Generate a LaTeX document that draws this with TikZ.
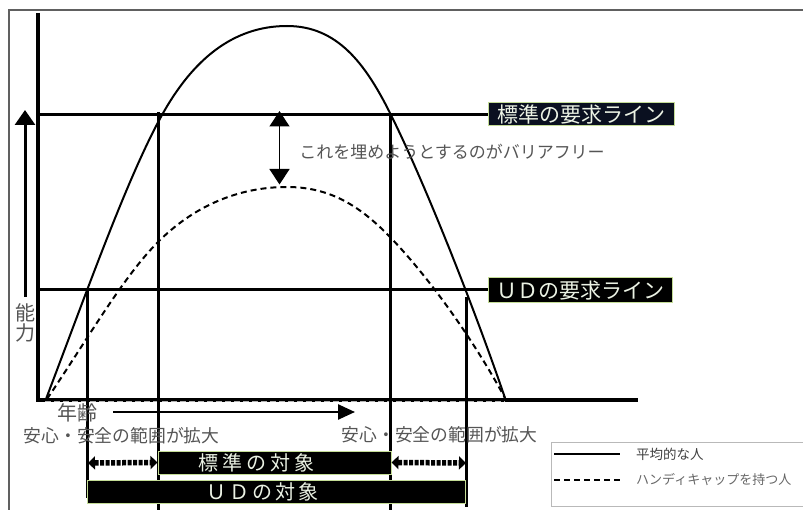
\documentclass[tikz,border=0pt]{standalone}
\usepackage{fontspec}
\newfontfamily\jp{Noto Sans CJK JP}
\usetikzlibrary{arrows.meta}
\definecolor{lgreen}{RGB}{196,220,150}
\definecolor{navy}{RGB}{10,16,32}
\definecolor{txtgray}{RGB}{85,85,85}
\definecolor{lbltxt}{RGB}{235,242,228}
\newcommand{\jgap}{\kern4pt}
\begin{document}
\begin{tikzpicture}[x=1pt,y=-1pt,
  axisline/.style={line width=3.2pt},
  guide/.style={line width=3pt},
  curve/.style={line width=2pt},
  dcurve/.style={line width=2pt,dash pattern=on 6pt off 4pt},
  labbox/.style={fill=black,draw=lgreen,line width=1pt,text=lbltxt,inner sep=0pt,
    minimum height=23pt,font=\jp\fontsize{21}{21}\selectfont},
  barbox/.style={fill=black,draw=lgreen,line width=1pt,inner sep=0pt,minimum height=23pt},
  bartext/.style={text=lbltxt,inner sep=0pt,font=\jp\fontsize{20}{20}\selectfont},
  note/.style={text=txtgray,inner sep=0pt,font=\jp\fontsize{17}{17}\selectfont},
  hatch/.style={line width=5.5pt,dash pattern=on 4pt off 1.5pt,
    {Triangle[width=13pt,length=7pt]}-{Triangle[width=13pt,length=7pt]}}
]
\useasboundingbox (0,0) rectangle (803,510);
\clip (0,0) rectangle (803,510);

% outer frame
\coordinate (f1) at (9,510);
\coordinate (f2) at (9,10);
\coordinate (f3) at (803,10);
\draw[gray!75!black,line width=1.2pt] (f1) -- (f2) -- (f3);

% axes
\coordinate (yaTop) at (38,13);
\coordinate (org) at (38,400);
\coordinate (xaEnd) at (638,400);
\draw[axisline] (yaTop) -- (org);
\draw[axisline] (36.4,400) -- (xaEnd);
\coordinate (gb1) at (45,401.8);
\coordinate (gb2) at (505,401.8);
\draw[gray!60,line width=1pt,dash pattern=on 6pt off 3pt] (gb1) -- (gb2);

% ability arrow
\coordinate (abBot) at (25,297);
\coordinate (abTop) at (25,110);
\draw[line width=3pt,-{Triangle[width=20pt,length=15pt]}] (abBot) -- (abTop);
\node[inner sep=0pt,align=center,text=txtgray,font=\jp\fontsize{20}{20}\selectfont] (noryoku) at (25,323) {能\\力};

% requirement lines and labels
\node[labbox,fill=navy,minimum width=186pt] (stdlab) at (581,114.5) {標準の要求ライン};
\node[labbox,minimum width=184pt,minimum height=25pt] (udlab) at (580,290.5) {ＵＤの要求ライン};
\coordinate (stdL) at (40,115);
\coordinate (udL) at (40,290);
\draw[guide] (stdL) -- (stdL -| stdlab.west);
\draw[guide] (udL) -- (udL -| udlab.west);

% vertical guide lines
\coordinate (v1t) at (87,288.5); \coordinate (v1b) at (87,498);
\coordinate (v2t) at (158,112);  \coordinate (v2b) at (158,512);
\coordinate (v3t) at (390.5,113.5); \coordinate (v3b) at (390.5,512);
\coordinate (v4t) at (466,297);  \coordinate (v4b) at (466,507);
\draw[guide] (v1t) -- (v1b);
\draw[guide] (v2t) -- (v2b);
\draw[guide] (v3t) -- (v3b);
\draw[guide] (v4t) -- (v4b);

% average person curve
\coordinate (sA) at (46,399);
\coordinate (sB) at (162,115);
\coordinate (sP) at (287,26);
\coordinate (sC) at (390,113);
\coordinate (sD) at (505,398);
\draw[curve] (sA) .. controls (86,294) and (127,178) .. (sB)
  .. controls (192,61) and (232,26) .. (sP)
  .. controls (337,26) and (365,63) .. (sC)
  .. controls (425,183) and (475,310) .. (sD);

% handicapped person curve
\coordinate (dA) at (47,399);
\coordinate (dB) at (158,242);
\coordinate (dP) at (287,187);
\coordinate (dC) at (390,237);
\coordinate (dD) at (505,398);
\draw[dcurve] (dA) .. controls (87,340) and (123,277) .. (dB)
  .. controls (193,207) and (237,187) .. (dP)
  .. controls (330,187) and (360,206) .. (dC)
  .. controls (425,273) and (470,333.6) .. (dD);

% gap arrow
\coordinate (gapTop) at (279.5,111);
\coordinate (gapBot) at (279.5,184.5);
\draw[line width=1.5pt,{Triangle[width=20pt,length=15.5pt]}-{Triangle[width=20pt,length=15.5pt]}] (gapTop) -- (gapBot);
\node[note] (bf) at (452,152) {これを埋めようとするのがバリアフリー};

% age arrow
\node[inner sep=0pt,text=txtgray,font=\jp\fontsize{20}{20}\selectfont] (age) at (77,413) {年齢};
\coordinate (ageTip) at (355,412);
\draw[line width=2.5pt,-{Triangle[width=15pt,length=17pt]}] (113,412) -- (ageTip);

% safety range texts
\node[note,font=\jp\fontsize{17.8}{17.8}\selectfont] (safeL) at (121.5,436) {安心・安全の範囲が拡大};
\node[note,font=\jp\fontsize{17.8}{17.8}\selectfont] (safeR) at (439.5,435) {安心・安全の範囲が拡大};

% target bars
\node[barbox,minimum width=233pt] (stdbar) at (274.5,462.5) {};
\node[bartext] (stdtxt) at (256,463) {標\jgap 準\jgap の\jgap 対\jgap 象};
\node[barbox,minimum width=378pt] (udbar) at (276,491.5) {};
\node[bartext] (udtxt) at (262,492) {Ｕ\kern3pt Ｄ\kern3pt の\kern3pt 対\kern3pt 象};

% hatched double arrows
\coordinate (hl) at (88,463);
\coordinate (hr) at (466,463);
\draw[hatch] (hl) -- (stdbar.west);
\draw[hatch] (stdbar.east) -- (hr);

% legend
\node[draw=gray!55,line width=0.8pt,minimum width=262pt,minimum height=64pt,inner sep=0pt,anchor=north west] (leg) at (551,442) {};
\coordinate (ls1) at (554,454); \coordinate (ls2) at (620,454);
\coordinate (ld1) at (554,480); \coordinate (ld2) at (620,480);
\draw[line width=1.6pt] (ls1) -- (ls2);
\draw[line width=1.6pt,dash pattern=on 6pt off 4pt] (ld1) -- (ld2);
\node[anchor=west,inner sep=0pt,text=black!75,font=\jp\fontsize{13.5}{13.5}\selectfont] (legA) at (636,454) {平均的な人};
\node[anchor=west,inner sep=0pt,text=black!60,font=\jp\fontsize{13}{13}\selectfont] (legB) at (636,480) {ハンディキャップを持つ人};
\end{tikzpicture}
\end{document}
